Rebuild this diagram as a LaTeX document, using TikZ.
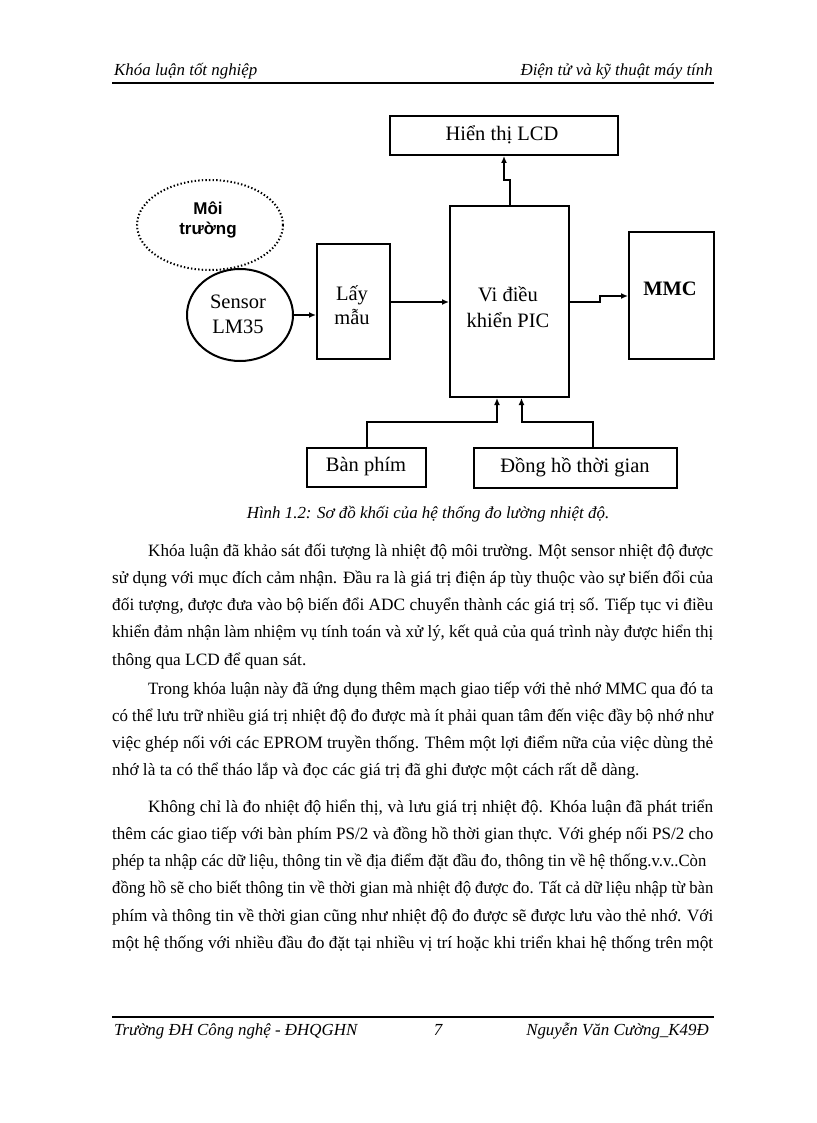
\documentclass[tikz,border=0pt]{standalone}
\usepackage{fontspec}
\usepackage{graphicx}
\setmainfont{Liberation Serif}
\newfontfamily\arialf{Liberation Sans}
\usetikzlibrary{arrows.meta,shapes.geometric}
\newsavebox\jlbox
\newcommand\jline[2]{\sbox\jlbox{#2}\ifdim\wd\jlbox>#1\relax\resizebox{#1}{\height}{\usebox\jlbox}\else\makebox[#1][s]{#2}\fi}
\newcommand\bodyf{\fontsize{17.3}{20}\selectfont}
\newcommand\dgf{\fontsize{20.5}{26}\selectfont}
\newcommand\hdf{\fontsize{16.9}{20}\selectfont\itshape}
\begin{document}
\begin{tikzpicture}[x=1pt,y=-1pt,
  box/.style={draw, line width=2pt, inner sep=0pt, minimum width=#1},
  lab/.style={font=\dgf, align=center, inner sep=0pt},
  arr/.style={line width=2pt, -{Latex[length=7pt,width=6pt]}},
  bl/.style={anchor=base west, inner sep=0pt, font=\bodyf},
  hd/.style={inner sep=0pt, font=\hdf}]
\useasboundingbox (0,0) rectangle (816,1123);
% header
\node[hd, anchor=base west] (hl) at (114,76) {Khóa luận tốt nghiệp};
\node[hd, anchor=base east] (hr) at (713,76) {Điện tử và kỹ thuật máy tính};
\draw[line width=2.2pt] (112,83) coordinate (hra) -- (714,83) coordinate (hrb);
% diagram
\node[box=228pt, minimum height=39pt] (lcd) at (504,135.5) {};
\node[lab] (lcdt) at (502,135) {Hiển thị LCD};
\node[draw, ellipse, line width=2pt, dash pattern=on 1.4pt off 2.2pt, minimum width=146pt, minimum height=90pt] (moi) at (210,225) {};
\node[inner sep=0pt, align=center, font=\arialf\bfseries\fontsize{17}{20}\selectfont] (moit) at (208,220) {Môi\\trường};
\node[draw, ellipse, line width=2pt, minimum width=106pt, minimum height=92pt] (sen) at (240,315) {};
\node[lab, font=\fontsize{20.5}{25}\selectfont] (sent) at (238,314.5) {Sensor\\LM35};
\node[box=73pt, minimum height=115pt] (lay) at (353.5,301.5) {};
\node[lab, font=\fontsize{20.5}{24}\selectfont] (layt) at (352,305) {Lấy\\mẫu};
\node[box=119pt, minimum height=191pt] (pic) at (509.5,301.5) {};
\node[lab] (pict) at (508,307) {Vi điều\\khiển PIC};
\node[box=85pt, minimum height=127pt] (mmc) at (671.5,295.5) {};
\node[lab, font=\dgf\bfseries] (mmct) at (670,289) {MMC};
\node[box=119pt, minimum height=39pt] (ban) at (366.5,467.5) {};
\node[lab] (bant) at (366,467) {Bàn phím};
\node[box=203pt, minimum height=40pt] (dong) at (575.5,468) {};
\node[lab] (dongt) at (575,467) {Đồng hồ thời gian};
% connectors
\draw[arr] (sen.east) -- (lay.west |- sen.east);
\draw[arr] (lay.east |- 0,302) -- (pic.west |- 0,302);
\draw[arr] (pic.east |- 0,302) -- (600,302) |- (mmc.west |- 0,296);
\draw[arr] (pic.north) |- (504,180) -- (lcd.south -| 504,0);
\draw[arr] (ban.north) |- (497,422) -- (pic.south -| 497,0);
\draw[arr] (dong.north -| 593,0) |- (521.5,422) -- (pic.south -| 521.5,0);
% caption
\node[inner sep=0pt, font=\hdf, anchor=base] (cap) at (428,518) {Hình 1.2: Sơ đồ khối của hệ thống đo lường nhiệt độ.};
% paragraph 1
\node[bl] (a1) at (148,556) {\jline{565pt}{Khóa luận đã khảo sát đối tượng là nhiệt độ môi trường. Một sensor nhiệt độ được}};
\node[bl] (a2) at (112,583.3) {\jline{601pt}{sử dụng với mục đích cảm nhận. Đầu ra là giá trị điện áp tùy thuộc vào sự biến đổi của}};
\node[bl] (a3) at (112,610.6) {\jline{601pt}{đối tượng, được đưa vào bộ biến đổi ADC chuyển thành các giá trị số. Tiếp tục vi điều}};
\node[bl] (a4) at (112,637.9) {\jline{601pt}{khiển đảm nhận làm nhiệm vụ tính toán và xử lý, kết quả của quá trình này được hiển thị}};
\node[bl] (a5) at (112,665.2) {thông qua LCD để quan sát.};
% paragraph 2
\node[bl] (b1) at (148,694) {\jline{565pt}{Trong khóa luận này đã ứng dụng thêm mạch giao tiếp với thẻ nhớ MMC qua đó ta}};
\node[bl] (b2) at (112,721.3) {\jline{601pt}{có thể lưu trữ nhiều giá trị nhiệt độ đo được mà ít phải quan tâm đến việc đầy bộ nhớ như}};
\node[bl] (b3) at (112,748.6) {\jline{601pt}{việc ghép nối với các EPROM truyền thống. Thêm một lợi điểm nữa của việc dùng thẻ}};
\node[bl] (b4) at (112,775.9) {nhớ là ta có thể tháo lắp và đọc các giá trị đã ghi được một cách rất dễ dàng.};
% paragraph 3
\node[bl] (c1) at (148,812) {\jline{565pt}{Không chỉ là đo nhiệt độ hiển thị, và lưu giá trị nhiệt độ. Khóa luận đã phát triển}};
\node[bl] (c2) at (112,839.3) {\jline{601pt}{thêm các giao tiếp với bàn phím PS/2 và đồng hồ thời gian thực. Với ghép nối PS/2 cho}};
\node[bl] (c3) at (112,866.6) {\jline{594pt}{phép ta nhập các dữ liệu, thông tin về địa điểm đặt đầu đo, thông tin về hệ thống.v.v..Còn}};
\node[bl] (c4) at (112,893.9) {\jline{601pt}{đồng hồ sẽ cho biết thông tin về thời gian mà nhiệt độ được đo. Tất cả dữ liệu nhập từ bàn}};
\node[bl] (c5) at (112,921.2) {\jline{601pt}{phím và thông tin về thời gian cũng như nhiệt độ đo được sẽ được lưu vào thẻ nhớ. Với}};
\node[bl] (c6) at (112,948.5) {\jline{601pt}{một hệ thống với nhiều đầu đo đặt tại nhiều vị trí hoặc khi triển khai hệ thống trên một}};
% footer
\draw[line width=2.2pt] (112,1017) coordinate (fra) -- (714,1017) coordinate (frb);
\node[hd, anchor=base west] (fl) at (114,1035) {Trường  ĐH Công nghệ - ĐHQGHN};
\node[hd, anchor=base] (fn) at (438,1035) {7};
\node[hd, anchor=base east] (fr) at (709,1035) {Nguyễn Văn Cường\_K49Đ};
\end{tikzpicture}
\end{document}
